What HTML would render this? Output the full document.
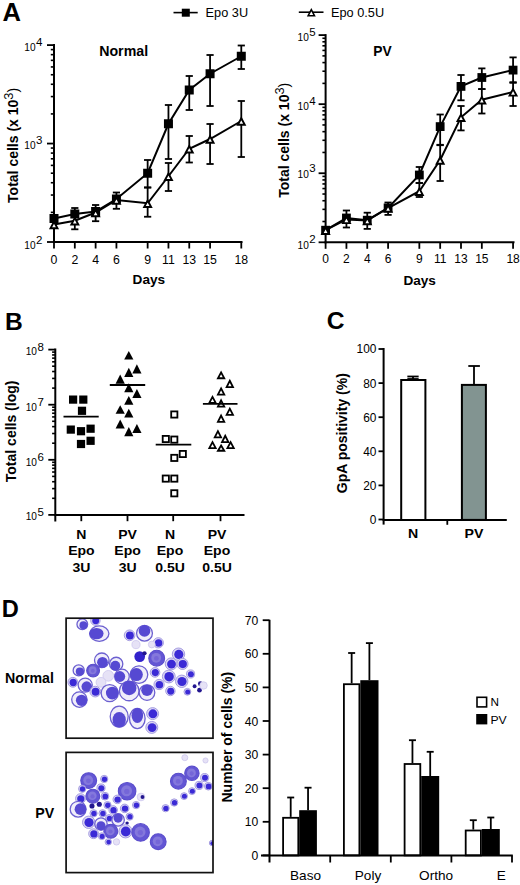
<!DOCTYPE html>
<html><head><meta charset="utf-8"><style>
html,body{margin:0;padding:0;background:#fff;}
svg{display:block;}
text{font-family:"Liberation Sans", sans-serif;fill:#000;}
</style></head><body>
<svg width="520" height="885" viewBox="0 0 520 885">
<rect width="520" height="885" fill="#fff"/>
<text transform="translate(2.40,20.60)" font-size="25.6" font-weight="bold" text-anchor="start">A</text>
<line x1="173.50" y1="12.60" x2="197.70" y2="12.60" stroke="#000" stroke-width="1.6"/>
<rect x="181.80" y="8.70" width="8.00" height="8.00" fill="#000"/>
<text transform="translate(205.60,17.00) scale(1.045,1)" font-size="12.2" font-weight="normal" text-anchor="start">Epo 3U</text>
<line x1="298.80" y1="12.20" x2="323.50" y2="12.20" stroke="#000" stroke-width="1.6"/>
<polygon points="311.30,9.70 314.44,15.70 308.16,15.70" fill="#fff" stroke="#000" stroke-width="1.6" stroke-linejoin="miter"/>
<text transform="translate(331.00,17.00) scale(1.045,1)" font-size="12.2" font-weight="normal" text-anchor="start">Epo 0.5U</text>
<line x1="54.00" y1="44.10" x2="54.00" y2="243.00" stroke="#000" stroke-width="2"/>
<line x1="47.00" y1="45.10" x2="54.00" y2="45.10" stroke="#000" stroke-width="1.8"/>
<line x1="47.00" y1="143.55" x2="54.00" y2="143.55" stroke="#000" stroke-width="1.8"/>
<line x1="47.00" y1="242.00" x2="54.00" y2="242.00" stroke="#000" stroke-width="1.8"/>
<line x1="50.80" y1="113.91" x2="54.00" y2="113.91" stroke="#000" stroke-width="1.6"/>
<line x1="50.80" y1="96.58" x2="54.00" y2="96.58" stroke="#000" stroke-width="1.6"/>
<line x1="50.80" y1="84.28" x2="54.00" y2="84.28" stroke="#000" stroke-width="1.6"/>
<line x1="50.80" y1="74.74" x2="54.00" y2="74.74" stroke="#000" stroke-width="1.6"/>
<line x1="50.80" y1="66.94" x2="54.00" y2="66.94" stroke="#000" stroke-width="1.6"/>
<line x1="50.80" y1="60.35" x2="54.00" y2="60.35" stroke="#000" stroke-width="1.6"/>
<line x1="50.80" y1="54.64" x2="54.00" y2="54.64" stroke="#000" stroke-width="1.6"/>
<line x1="50.80" y1="49.60" x2="54.00" y2="49.60" stroke="#000" stroke-width="1.6"/>
<line x1="50.80" y1="212.36" x2="54.00" y2="212.36" stroke="#000" stroke-width="1.6"/>
<line x1="50.80" y1="195.03" x2="54.00" y2="195.03" stroke="#000" stroke-width="1.6"/>
<line x1="50.80" y1="182.73" x2="54.00" y2="182.73" stroke="#000" stroke-width="1.6"/>
<line x1="50.80" y1="173.19" x2="54.00" y2="173.19" stroke="#000" stroke-width="1.6"/>
<line x1="50.80" y1="165.39" x2="54.00" y2="165.39" stroke="#000" stroke-width="1.6"/>
<line x1="50.80" y1="158.80" x2="54.00" y2="158.80" stroke="#000" stroke-width="1.6"/>
<line x1="50.80" y1="153.09" x2="54.00" y2="153.09" stroke="#000" stroke-width="1.6"/>
<line x1="50.80" y1="148.05" x2="54.00" y2="148.05" stroke="#000" stroke-width="1.6"/>
<line x1="53.00" y1="242.00" x2="242.50" y2="242.00" stroke="#000" stroke-width="2"/>
<line x1="54.00" y1="242.00" x2="54.00" y2="248.50" stroke="#000" stroke-width="1.8"/>
<line x1="74.81" y1="242.00" x2="74.81" y2="248.50" stroke="#000" stroke-width="1.8"/>
<line x1="95.62" y1="242.00" x2="95.62" y2="248.50" stroke="#000" stroke-width="1.8"/>
<line x1="116.43" y1="242.00" x2="116.43" y2="248.50" stroke="#000" stroke-width="1.8"/>
<line x1="147.64" y1="242.00" x2="147.64" y2="248.50" stroke="#000" stroke-width="1.8"/>
<line x1="168.45" y1="242.00" x2="168.45" y2="248.50" stroke="#000" stroke-width="1.8"/>
<line x1="189.26" y1="242.00" x2="189.26" y2="248.50" stroke="#000" stroke-width="1.8"/>
<line x1="210.07" y1="242.00" x2="210.07" y2="248.50" stroke="#000" stroke-width="1.8"/>
<line x1="241.29" y1="242.00" x2="241.29" y2="248.50" stroke="#000" stroke-width="1.8"/>
<line x1="74.81" y1="208.00" x2="74.81" y2="214.00" stroke="#000" stroke-width="1.8"/>
<line x1="71.21" y1="208.00" x2="78.41" y2="208.00" stroke="#000" stroke-width="1.8"/>
<line x1="95.62" y1="205.00" x2="95.62" y2="211.50" stroke="#000" stroke-width="1.8"/>
<line x1="92.02" y1="205.00" x2="99.22" y2="205.00" stroke="#000" stroke-width="1.8"/>
<line x1="116.43" y1="192.50" x2="116.43" y2="199.00" stroke="#000" stroke-width="1.8"/>
<line x1="112.83" y1="192.50" x2="120.03" y2="192.50" stroke="#000" stroke-width="1.8"/>
<line x1="147.64" y1="160.00" x2="147.64" y2="187.50" stroke="#000" stroke-width="1.8"/>
<line x1="144.04" y1="160.00" x2="151.24" y2="160.00" stroke="#000" stroke-width="1.8"/>
<line x1="144.04" y1="187.50" x2="151.24" y2="187.50" stroke="#000" stroke-width="1.8"/>
<line x1="168.45" y1="105.00" x2="168.45" y2="159.00" stroke="#000" stroke-width="1.8"/>
<line x1="164.85" y1="105.00" x2="172.05" y2="105.00" stroke="#000" stroke-width="1.8"/>
<line x1="164.85" y1="159.00" x2="172.05" y2="159.00" stroke="#000" stroke-width="1.8"/>
<line x1="189.26" y1="76.00" x2="189.26" y2="110.00" stroke="#000" stroke-width="1.8"/>
<line x1="185.66" y1="76.00" x2="192.86" y2="76.00" stroke="#000" stroke-width="1.8"/>
<line x1="185.66" y1="110.00" x2="192.86" y2="110.00" stroke="#000" stroke-width="1.8"/>
<line x1="210.07" y1="55.00" x2="210.07" y2="106.00" stroke="#000" stroke-width="1.8"/>
<line x1="206.47" y1="55.00" x2="213.67" y2="55.00" stroke="#000" stroke-width="1.8"/>
<line x1="206.47" y1="106.00" x2="213.67" y2="106.00" stroke="#000" stroke-width="1.8"/>
<line x1="241.29" y1="45.50" x2="241.29" y2="69.00" stroke="#000" stroke-width="1.8"/>
<line x1="237.69" y1="45.50" x2="244.89" y2="45.50" stroke="#000" stroke-width="1.8"/>
<line x1="237.69" y1="69.00" x2="244.89" y2="69.00" stroke="#000" stroke-width="1.8"/>
<line x1="74.81" y1="220.70" x2="74.81" y2="229.30" stroke="#000" stroke-width="1.8"/>
<line x1="71.21" y1="229.30" x2="78.41" y2="229.30" stroke="#000" stroke-width="1.8"/>
<line x1="95.62" y1="212.50" x2="95.62" y2="221.20" stroke="#000" stroke-width="1.8"/>
<line x1="92.02" y1="221.20" x2="99.22" y2="221.20" stroke="#000" stroke-width="1.8"/>
<line x1="116.43" y1="200.00" x2="116.43" y2="208.80" stroke="#000" stroke-width="1.8"/>
<line x1="112.83" y1="208.80" x2="120.03" y2="208.80" stroke="#000" stroke-width="1.8"/>
<line x1="147.64" y1="187.50" x2="147.64" y2="216.75" stroke="#000" stroke-width="1.8"/>
<line x1="144.04" y1="187.50" x2="151.24" y2="187.50" stroke="#000" stroke-width="1.8"/>
<line x1="144.04" y1="216.75" x2="151.24" y2="216.75" stroke="#000" stroke-width="1.8"/>
<line x1="168.45" y1="163.00" x2="168.45" y2="191.00" stroke="#000" stroke-width="1.8"/>
<line x1="164.85" y1="163.00" x2="172.05" y2="163.00" stroke="#000" stroke-width="1.8"/>
<line x1="164.85" y1="191.00" x2="172.05" y2="191.00" stroke="#000" stroke-width="1.8"/>
<line x1="189.26" y1="136.00" x2="189.26" y2="162.50" stroke="#000" stroke-width="1.8"/>
<line x1="185.66" y1="136.00" x2="192.86" y2="136.00" stroke="#000" stroke-width="1.8"/>
<line x1="185.66" y1="162.50" x2="192.86" y2="162.50" stroke="#000" stroke-width="1.8"/>
<line x1="210.07" y1="124.00" x2="210.07" y2="164.00" stroke="#000" stroke-width="1.8"/>
<line x1="206.47" y1="124.00" x2="213.67" y2="124.00" stroke="#000" stroke-width="1.8"/>
<line x1="206.47" y1="164.00" x2="213.67" y2="164.00" stroke="#000" stroke-width="1.8"/>
<line x1="241.29" y1="101.00" x2="241.29" y2="157.00" stroke="#000" stroke-width="1.8"/>
<line x1="237.69" y1="101.00" x2="244.89" y2="101.00" stroke="#000" stroke-width="1.8"/>
<line x1="237.69" y1="157.00" x2="244.89" y2="157.00" stroke="#000" stroke-width="1.8"/>
<polyline fill="none" stroke="#000" stroke-width="2" points="54.00,218.50 74.81,214.00 95.62,211.50 116.43,199.00 147.64,173.25 168.45,123.75 189.26,90.00 210.07,73.75 241.29,56.25"/>
<polyline fill="none" stroke="#000" stroke-width="2" points="54.00,224.50 74.81,220.70 95.62,212.50 116.43,200.00 147.64,203.25 168.45,176.25 189.26,148.75 210.07,139.00 241.29,121.00"/>
<rect x="49.50" y="214.00" width="9.00" height="9.00" fill="#000"/>
<rect x="70.31" y="209.50" width="9.00" height="9.00" fill="#000"/>
<rect x="91.12" y="207.00" width="9.00" height="9.00" fill="#000"/>
<rect x="111.93" y="194.50" width="9.00" height="9.00" fill="#000"/>
<rect x="143.14" y="168.75" width="9.00" height="9.00" fill="#000"/>
<rect x="163.95" y="119.25" width="9.00" height="9.00" fill="#000"/>
<rect x="184.76" y="85.50" width="9.00" height="9.00" fill="#000"/>
<rect x="205.57" y="69.25" width="9.00" height="9.00" fill="#000"/>
<rect x="236.79" y="51.75" width="9.00" height="9.00" fill="#000"/>
<polygon points="54.00,221.70 57.48,228.25 50.52,228.25" fill="#fff" stroke="#000" stroke-width="1.9" stroke-linejoin="miter"/>
<polygon points="74.81,217.90 78.30,224.45 71.33,224.45" fill="#fff" stroke="#000" stroke-width="1.9" stroke-linejoin="miter"/>
<polygon points="95.62,209.70 99.11,216.25 92.14,216.25" fill="#fff" stroke="#000" stroke-width="1.9" stroke-linejoin="miter"/>
<polygon points="116.43,197.20 119.91,203.75 112.94,203.75" fill="#fff" stroke="#000" stroke-width="1.9" stroke-linejoin="miter"/>
<polygon points="147.64,200.45 151.13,207.00 144.16,207.00" fill="#fff" stroke="#000" stroke-width="1.9" stroke-linejoin="miter"/>
<polygon points="168.45,173.45 171.94,180.00 164.97,180.00" fill="#fff" stroke="#000" stroke-width="1.9" stroke-linejoin="miter"/>
<polygon points="189.26,145.95 192.75,152.50 185.78,152.50" fill="#fff" stroke="#000" stroke-width="1.9" stroke-linejoin="miter"/>
<polygon points="210.07,136.20 213.56,142.75 206.59,142.75" fill="#fff" stroke="#000" stroke-width="1.9" stroke-linejoin="miter"/>
<polygon points="241.29,118.20 244.77,124.75 237.81,124.75" fill="#fff" stroke="#000" stroke-width="1.9" stroke-linejoin="miter"/>
<text transform="translate(54.00,263.60)" font-size="12.3" font-weight="normal" text-anchor="middle">0</text>
<text transform="translate(74.81,263.60)" font-size="12.3" font-weight="normal" text-anchor="middle">2</text>
<text transform="translate(95.62,263.60)" font-size="12.3" font-weight="normal" text-anchor="middle">4</text>
<text transform="translate(116.43,263.60)" font-size="12.3" font-weight="normal" text-anchor="middle">6</text>
<text transform="translate(147.64,263.60)" font-size="12.3" font-weight="normal" text-anchor="middle">9</text>
<text transform="translate(168.45,263.60)" font-size="12.3" font-weight="normal" text-anchor="middle">11</text>
<text transform="translate(189.26,263.60)" font-size="12.3" font-weight="normal" text-anchor="middle">13</text>
<text transform="translate(210.07,263.60)" font-size="12.3" font-weight="normal" text-anchor="middle">15</text>
<text transform="translate(241.29,263.60)" font-size="12.3" font-weight="normal" text-anchor="middle">18</text>
<text transform="translate(35.60,50.80) scale(0.88,1)" font-size="11.5" text-anchor="end">10</text>
<text x="36.00" y="46.00" font-size="11.5">4</text>
<text transform="translate(35.60,148.80) scale(0.88,1)" font-size="11.5" text-anchor="end">10</text>
<text x="36.00" y="144.00" font-size="11.5">3</text>
<text transform="translate(35.60,248.60) scale(0.88,1)" font-size="11.5" text-anchor="end">10</text>
<text x="36.00" y="243.80" font-size="11.5">2</text>
<text transform="translate(99.20,55.80)" font-size="14.2" font-weight="bold" text-anchor="start">Normal</text>
<text transform="translate(132.60,284.20)" font-size="13.6" font-weight="bold" text-anchor="start">Days</text>
<text transform="translate(18.20,202.90) rotate(-90)" font-size="14" font-weight="bold" text-anchor="start">Total cells (x 10<tspan font-size="12.8" font-weight="normal" dy="-5.5">3</tspan><tspan font-weight="normal" dy="5.5">)</tspan></text>
<line x1="325.60" y1="34.10" x2="325.60" y2="243.30" stroke="#000" stroke-width="2"/>
<line x1="318.60" y1="35.10" x2="325.60" y2="35.10" stroke="#000" stroke-width="1.8"/>
<line x1="318.60" y1="104.17" x2="325.60" y2="104.17" stroke="#000" stroke-width="1.8"/>
<line x1="318.60" y1="173.24" x2="325.60" y2="173.24" stroke="#000" stroke-width="1.8"/>
<line x1="318.60" y1="242.31" x2="325.60" y2="242.31" stroke="#000" stroke-width="1.8"/>
<line x1="322.40" y1="83.38" x2="325.60" y2="83.38" stroke="#000" stroke-width="1.6"/>
<line x1="322.40" y1="71.22" x2="325.60" y2="71.22" stroke="#000" stroke-width="1.6"/>
<line x1="322.40" y1="62.59" x2="325.60" y2="62.59" stroke="#000" stroke-width="1.6"/>
<line x1="322.40" y1="55.89" x2="325.60" y2="55.89" stroke="#000" stroke-width="1.6"/>
<line x1="322.40" y1="50.42" x2="325.60" y2="50.42" stroke="#000" stroke-width="1.6"/>
<line x1="322.40" y1="45.80" x2="325.60" y2="45.80" stroke="#000" stroke-width="1.6"/>
<line x1="322.40" y1="41.79" x2="325.60" y2="41.79" stroke="#000" stroke-width="1.6"/>
<line x1="322.40" y1="38.26" x2="325.60" y2="38.26" stroke="#000" stroke-width="1.6"/>
<line x1="322.40" y1="152.45" x2="325.60" y2="152.45" stroke="#000" stroke-width="1.6"/>
<line x1="322.40" y1="140.29" x2="325.60" y2="140.29" stroke="#000" stroke-width="1.6"/>
<line x1="322.40" y1="131.66" x2="325.60" y2="131.66" stroke="#000" stroke-width="1.6"/>
<line x1="322.40" y1="124.96" x2="325.60" y2="124.96" stroke="#000" stroke-width="1.6"/>
<line x1="322.40" y1="119.49" x2="325.60" y2="119.49" stroke="#000" stroke-width="1.6"/>
<line x1="322.40" y1="114.87" x2="325.60" y2="114.87" stroke="#000" stroke-width="1.6"/>
<line x1="322.40" y1="110.86" x2="325.60" y2="110.86" stroke="#000" stroke-width="1.6"/>
<line x1="322.40" y1="107.33" x2="325.60" y2="107.33" stroke="#000" stroke-width="1.6"/>
<line x1="322.40" y1="221.52" x2="325.60" y2="221.52" stroke="#000" stroke-width="1.6"/>
<line x1="322.40" y1="209.36" x2="325.60" y2="209.36" stroke="#000" stroke-width="1.6"/>
<line x1="322.40" y1="200.73" x2="325.60" y2="200.73" stroke="#000" stroke-width="1.6"/>
<line x1="322.40" y1="194.03" x2="325.60" y2="194.03" stroke="#000" stroke-width="1.6"/>
<line x1="322.40" y1="188.56" x2="325.60" y2="188.56" stroke="#000" stroke-width="1.6"/>
<line x1="322.40" y1="183.94" x2="325.60" y2="183.94" stroke="#000" stroke-width="1.6"/>
<line x1="322.40" y1="179.93" x2="325.60" y2="179.93" stroke="#000" stroke-width="1.6"/>
<line x1="322.40" y1="176.40" x2="325.60" y2="176.40" stroke="#000" stroke-width="1.6"/>
<line x1="324.60" y1="242.30" x2="514.50" y2="242.30" stroke="#000" stroke-width="2"/>
<line x1="325.60" y1="242.30" x2="325.60" y2="248.80" stroke="#000" stroke-width="1.8"/>
<line x1="346.43" y1="242.30" x2="346.43" y2="248.80" stroke="#000" stroke-width="1.8"/>
<line x1="367.26" y1="242.30" x2="367.26" y2="248.80" stroke="#000" stroke-width="1.8"/>
<line x1="388.09" y1="242.30" x2="388.09" y2="248.80" stroke="#000" stroke-width="1.8"/>
<line x1="419.34" y1="242.30" x2="419.34" y2="248.80" stroke="#000" stroke-width="1.8"/>
<line x1="440.17" y1="242.30" x2="440.17" y2="248.80" stroke="#000" stroke-width="1.8"/>
<line x1="461.00" y1="242.30" x2="461.00" y2="248.80" stroke="#000" stroke-width="1.8"/>
<line x1="481.83" y1="242.30" x2="481.83" y2="248.80" stroke="#000" stroke-width="1.8"/>
<line x1="513.07" y1="242.30" x2="513.07" y2="248.80" stroke="#000" stroke-width="1.8"/>
<line x1="346.43" y1="210.50" x2="346.43" y2="218.00" stroke="#000" stroke-width="1.8"/>
<line x1="342.83" y1="210.50" x2="350.03" y2="210.50" stroke="#000" stroke-width="1.8"/>
<line x1="367.26" y1="212.70" x2="367.26" y2="220.20" stroke="#000" stroke-width="1.8"/>
<line x1="363.66" y1="212.70" x2="370.86" y2="212.70" stroke="#000" stroke-width="1.8"/>
<line x1="388.09" y1="202.50" x2="388.09" y2="207.90" stroke="#000" stroke-width="1.8"/>
<line x1="384.49" y1="202.50" x2="391.69" y2="202.50" stroke="#000" stroke-width="1.8"/>
<line x1="419.34" y1="167.00" x2="419.34" y2="183.00" stroke="#000" stroke-width="1.8"/>
<line x1="415.74" y1="167.00" x2="422.94" y2="167.00" stroke="#000" stroke-width="1.8"/>
<line x1="415.74" y1="183.00" x2="422.94" y2="183.00" stroke="#000" stroke-width="1.8"/>
<line x1="440.17" y1="114.50" x2="440.17" y2="145.20" stroke="#000" stroke-width="1.8"/>
<line x1="436.56" y1="114.50" x2="443.77" y2="114.50" stroke="#000" stroke-width="1.8"/>
<line x1="436.56" y1="145.20" x2="443.77" y2="145.20" stroke="#000" stroke-width="1.8"/>
<line x1="461.00" y1="75.00" x2="461.00" y2="100.30" stroke="#000" stroke-width="1.8"/>
<line x1="457.39" y1="75.00" x2="464.60" y2="75.00" stroke="#000" stroke-width="1.8"/>
<line x1="457.39" y1="100.30" x2="464.60" y2="100.30" stroke="#000" stroke-width="1.8"/>
<line x1="481.83" y1="68.40" x2="481.83" y2="89.10" stroke="#000" stroke-width="1.8"/>
<line x1="478.23" y1="68.40" x2="485.43" y2="68.40" stroke="#000" stroke-width="1.8"/>
<line x1="478.23" y1="89.10" x2="485.43" y2="89.10" stroke="#000" stroke-width="1.8"/>
<line x1="513.07" y1="57.40" x2="513.07" y2="82.80" stroke="#000" stroke-width="1.8"/>
<line x1="509.47" y1="57.40" x2="516.67" y2="57.40" stroke="#000" stroke-width="1.8"/>
<line x1="509.47" y1="82.80" x2="516.67" y2="82.80" stroke="#000" stroke-width="1.8"/>
<line x1="346.43" y1="219.40" x2="346.43" y2="227.50" stroke="#000" stroke-width="1.8"/>
<line x1="342.83" y1="227.50" x2="350.03" y2="227.50" stroke="#000" stroke-width="1.8"/>
<line x1="367.26" y1="220.50" x2="367.26" y2="228.90" stroke="#000" stroke-width="1.8"/>
<line x1="363.66" y1="228.90" x2="370.86" y2="228.90" stroke="#000" stroke-width="1.8"/>
<line x1="388.09" y1="208.00" x2="388.09" y2="214.90" stroke="#000" stroke-width="1.8"/>
<line x1="384.49" y1="214.90" x2="391.69" y2="214.90" stroke="#000" stroke-width="1.8"/>
<line x1="419.34" y1="183.00" x2="419.34" y2="197.00" stroke="#000" stroke-width="1.8"/>
<line x1="415.74" y1="183.00" x2="422.94" y2="183.00" stroke="#000" stroke-width="1.8"/>
<line x1="415.74" y1="197.00" x2="422.94" y2="197.00" stroke="#000" stroke-width="1.8"/>
<line x1="440.17" y1="144.80" x2="440.17" y2="181.00" stroke="#000" stroke-width="1.8"/>
<line x1="436.56" y1="144.80" x2="443.77" y2="144.80" stroke="#000" stroke-width="1.8"/>
<line x1="436.56" y1="181.00" x2="443.77" y2="181.00" stroke="#000" stroke-width="1.8"/>
<line x1="461.00" y1="106.00" x2="461.00" y2="130.40" stroke="#000" stroke-width="1.8"/>
<line x1="457.39" y1="106.00" x2="464.60" y2="106.00" stroke="#000" stroke-width="1.8"/>
<line x1="457.39" y1="130.40" x2="464.60" y2="130.40" stroke="#000" stroke-width="1.8"/>
<line x1="481.83" y1="89.10" x2="481.83" y2="113.50" stroke="#000" stroke-width="1.8"/>
<line x1="478.23" y1="89.10" x2="485.43" y2="89.10" stroke="#000" stroke-width="1.8"/>
<line x1="478.23" y1="113.50" x2="485.43" y2="113.50" stroke="#000" stroke-width="1.8"/>
<line x1="513.07" y1="82.20" x2="513.07" y2="106.00" stroke="#000" stroke-width="1.8"/>
<line x1="509.47" y1="82.20" x2="516.67" y2="82.20" stroke="#000" stroke-width="1.8"/>
<line x1="509.47" y1="106.00" x2="516.67" y2="106.00" stroke="#000" stroke-width="1.8"/>
<polyline fill="none" stroke="#000" stroke-width="2" points="325.60,230.20 346.43,218.00 367.26,220.20 388.09,207.90 419.34,175.00 440.17,126.60 461.00,86.40 481.83,77.50 513.07,70.10"/>
<polyline fill="none" stroke="#000" stroke-width="2" points="325.60,230.20 346.43,219.40 367.26,220.50 388.09,208.00 419.34,191.20 440.17,160.00 461.00,117.30 481.83,99.70 513.07,91.90"/>
<rect x="321.20" y="225.80" width="8.80" height="8.80" fill="#000"/>
<rect x="342.03" y="213.60" width="8.80" height="8.80" fill="#000"/>
<rect x="362.86" y="215.80" width="8.80" height="8.80" fill="#000"/>
<rect x="383.69" y="203.50" width="8.80" height="8.80" fill="#000"/>
<rect x="414.94" y="170.60" width="8.80" height="8.80" fill="#000"/>
<rect x="435.77" y="122.20" width="8.80" height="8.80" fill="#000"/>
<rect x="456.60" y="82.00" width="8.80" height="8.80" fill="#000"/>
<rect x="477.43" y="73.10" width="8.80" height="8.80" fill="#000"/>
<rect x="508.67" y="65.70" width="8.80" height="8.80" fill="#000"/>
<polygon points="325.60,227.40 329.09,233.95 322.12,233.95" fill="#fff" stroke="#000" stroke-width="1.9" stroke-linejoin="miter"/>
<polygon points="346.43,216.60 349.92,223.15 342.94,223.15" fill="#fff" stroke="#000" stroke-width="1.9" stroke-linejoin="miter"/>
<polygon points="367.26,217.70 370.75,224.25 363.77,224.25" fill="#fff" stroke="#000" stroke-width="1.9" stroke-linejoin="miter"/>
<polygon points="388.09,205.20 391.58,211.75 384.61,211.75" fill="#fff" stroke="#000" stroke-width="1.9" stroke-linejoin="miter"/>
<polygon points="419.34,188.40 422.82,194.95 415.85,194.95" fill="#fff" stroke="#000" stroke-width="1.9" stroke-linejoin="miter"/>
<polygon points="440.17,157.20 443.65,163.75 436.68,163.75" fill="#fff" stroke="#000" stroke-width="1.9" stroke-linejoin="miter"/>
<polygon points="461.00,114.50 464.48,121.05 457.51,121.05" fill="#fff" stroke="#000" stroke-width="1.9" stroke-linejoin="miter"/>
<polygon points="481.83,96.90 485.31,103.45 478.34,103.45" fill="#fff" stroke="#000" stroke-width="1.9" stroke-linejoin="miter"/>
<polygon points="513.07,89.10 516.55,95.65 509.58,95.65" fill="#fff" stroke="#000" stroke-width="1.9" stroke-linejoin="miter"/>
<text transform="translate(325.60,263.00)" font-size="12.0" font-weight="normal" text-anchor="middle">0</text>
<text transform="translate(346.43,263.00)" font-size="12.0" font-weight="normal" text-anchor="middle">2</text>
<text transform="translate(367.26,263.00)" font-size="12.0" font-weight="normal" text-anchor="middle">4</text>
<text transform="translate(388.09,263.00)" font-size="12.0" font-weight="normal" text-anchor="middle">6</text>
<text transform="translate(419.34,263.00)" font-size="12.0" font-weight="normal" text-anchor="middle">9</text>
<text transform="translate(440.17,263.00)" font-size="12.0" font-weight="normal" text-anchor="middle">11</text>
<text transform="translate(461.00,263.00)" font-size="12.0" font-weight="normal" text-anchor="middle">13</text>
<text transform="translate(481.83,263.00)" font-size="12.0" font-weight="normal" text-anchor="middle">15</text>
<text transform="translate(513.07,263.00)" font-size="12.0" font-weight="normal" text-anchor="middle">18</text>
<text transform="translate(308.80,40.80) scale(0.88,1)" font-size="11.5" text-anchor="end">10</text>
<text x="309.20" y="35.60" font-size="11.5">5</text>
<text transform="translate(308.80,110.20) scale(0.88,1)" font-size="11.5" text-anchor="end">10</text>
<text x="309.20" y="105.00" font-size="11.5">4</text>
<text transform="translate(308.80,177.60) scale(0.88,1)" font-size="11.5" text-anchor="end">10</text>
<text x="309.20" y="172.40" font-size="11.5">3</text>
<text transform="translate(308.80,248.60) scale(0.88,1)" font-size="11.5" text-anchor="end">10</text>
<text x="309.20" y="243.40" font-size="11.5">2</text>
<text transform="translate(373.20,55.80)" font-size="13.8" font-weight="bold" text-anchor="start">PV</text>
<text transform="translate(403.40,285.20)" font-size="13.6" font-weight="bold" text-anchor="start">Days</text>
<text transform="translate(289.00,197.80) rotate(-90)" font-size="14" font-weight="bold" text-anchor="start">Total cells (x 10<tspan font-size="12.8" font-weight="normal" dy="-5.5">3</tspan><tspan font-weight="normal" dy="5.5">)</tspan></text>
<text transform="translate(5.00,329.80)" font-size="24.6" font-weight="bold" text-anchor="start">B</text>
<line x1="55.30" y1="348.50" x2="55.30" y2="521.50" stroke="#000" stroke-width="2"/>
<line x1="48.30" y1="349.60" x2="55.30" y2="349.60" stroke="#000" stroke-width="1.8"/>
<line x1="48.30" y1="404.70" x2="55.30" y2="404.70" stroke="#000" stroke-width="1.8"/>
<line x1="48.30" y1="459.80" x2="55.30" y2="459.80" stroke="#000" stroke-width="1.8"/>
<line x1="48.30" y1="514.90" x2="55.30" y2="514.90" stroke="#000" stroke-width="1.8"/>
<line x1="52.10" y1="388.11" x2="55.30" y2="388.11" stroke="#000" stroke-width="1.6"/>
<line x1="52.10" y1="378.41" x2="55.30" y2="378.41" stroke="#000" stroke-width="1.6"/>
<line x1="52.10" y1="371.53" x2="55.30" y2="371.53" stroke="#000" stroke-width="1.6"/>
<line x1="52.10" y1="366.19" x2="55.30" y2="366.19" stroke="#000" stroke-width="1.6"/>
<line x1="52.10" y1="361.82" x2="55.30" y2="361.82" stroke="#000" stroke-width="1.6"/>
<line x1="52.10" y1="358.14" x2="55.30" y2="358.14" stroke="#000" stroke-width="1.6"/>
<line x1="52.10" y1="354.94" x2="55.30" y2="354.94" stroke="#000" stroke-width="1.6"/>
<line x1="52.10" y1="352.12" x2="55.30" y2="352.12" stroke="#000" stroke-width="1.6"/>
<line x1="52.10" y1="443.21" x2="55.30" y2="443.21" stroke="#000" stroke-width="1.6"/>
<line x1="52.10" y1="433.51" x2="55.30" y2="433.51" stroke="#000" stroke-width="1.6"/>
<line x1="52.10" y1="426.63" x2="55.30" y2="426.63" stroke="#000" stroke-width="1.6"/>
<line x1="52.10" y1="421.29" x2="55.30" y2="421.29" stroke="#000" stroke-width="1.6"/>
<line x1="52.10" y1="416.92" x2="55.30" y2="416.92" stroke="#000" stroke-width="1.6"/>
<line x1="52.10" y1="413.24" x2="55.30" y2="413.24" stroke="#000" stroke-width="1.6"/>
<line x1="52.10" y1="410.04" x2="55.30" y2="410.04" stroke="#000" stroke-width="1.6"/>
<line x1="52.10" y1="407.22" x2="55.30" y2="407.22" stroke="#000" stroke-width="1.6"/>
<line x1="52.10" y1="498.31" x2="55.30" y2="498.31" stroke="#000" stroke-width="1.6"/>
<line x1="52.10" y1="488.61" x2="55.30" y2="488.61" stroke="#000" stroke-width="1.6"/>
<line x1="52.10" y1="481.73" x2="55.30" y2="481.73" stroke="#000" stroke-width="1.6"/>
<line x1="52.10" y1="476.39" x2="55.30" y2="476.39" stroke="#000" stroke-width="1.6"/>
<line x1="52.10" y1="472.02" x2="55.30" y2="472.02" stroke="#000" stroke-width="1.6"/>
<line x1="52.10" y1="468.34" x2="55.30" y2="468.34" stroke="#000" stroke-width="1.6"/>
<line x1="52.10" y1="465.14" x2="55.30" y2="465.14" stroke="#000" stroke-width="1.6"/>
<line x1="52.10" y1="462.32" x2="55.30" y2="462.32" stroke="#000" stroke-width="1.6"/>
<line x1="54.30" y1="515.00" x2="244.50" y2="515.00" stroke="#000" stroke-width="2"/>
<line x1="81.30" y1="515.00" x2="81.30" y2="521.20" stroke="#000" stroke-width="1.8"/>
<line x1="127.50" y1="515.00" x2="127.50" y2="521.20" stroke="#000" stroke-width="1.8"/>
<line x1="173.20" y1="515.00" x2="173.20" y2="521.20" stroke="#000" stroke-width="1.8"/>
<line x1="220.50" y1="515.00" x2="220.50" y2="521.20" stroke="#000" stroke-width="1.8"/>
<text transform="translate(37.00,355.40) scale(0.88,1)" font-size="11.5" text-anchor="end">10</text>
<text x="37.40" y="350.80" font-size="11.5">8</text>
<text transform="translate(37.00,410.50) scale(0.88,1)" font-size="11.5" text-anchor="end">10</text>
<text x="37.40" y="405.90" font-size="11.5">7</text>
<text transform="translate(37.00,465.70) scale(0.88,1)" font-size="11.5" text-anchor="end">10</text>
<text x="37.40" y="461.10" font-size="11.5">6</text>
<text transform="translate(37.00,520.20) scale(0.88,1)" font-size="11.5" text-anchor="end">10</text>
<text x="37.40" y="515.60" font-size="11.5">5</text>
<text transform="translate(16.00,482.20) rotate(-90)" font-size="14" font-weight="bold" text-anchor="start">Total cells (log)</text>
<text transform="translate(81.40,538.90) scale(1.040,1)" font-size="13.5" font-weight="bold" text-anchor="middle">N</text>
<text transform="translate(81.40,555.20) scale(1.040,1)" font-size="13.5" font-weight="bold" text-anchor="middle">Epo</text>
<text transform="translate(81.40,571.50) scale(1.040,1)" font-size="13.5" font-weight="bold" text-anchor="middle">3U</text>
<text transform="translate(127.60,538.90) scale(1.040,1)" font-size="13.5" font-weight="bold" text-anchor="middle">PV</text>
<text transform="translate(127.60,555.20) scale(1.040,1)" font-size="13.5" font-weight="bold" text-anchor="middle">Epo</text>
<text transform="translate(127.60,571.50) scale(1.040,1)" font-size="13.5" font-weight="bold" text-anchor="middle">3U</text>
<text transform="translate(170.00,538.90) scale(1.040,1)" font-size="13.5" font-weight="bold" text-anchor="middle">N</text>
<text transform="translate(170.00,555.20) scale(1.040,1)" font-size="13.5" font-weight="bold" text-anchor="middle">Epo</text>
<text transform="translate(170.00,571.50) scale(1.040,1)" font-size="13.5" font-weight="bold" text-anchor="middle">0.5U</text>
<text transform="translate(217.00,538.90) scale(1.040,1)" font-size="13.5" font-weight="bold" text-anchor="middle">PV</text>
<text transform="translate(217.00,555.20) scale(1.040,1)" font-size="13.5" font-weight="bold" text-anchor="middle">Epo</text>
<text transform="translate(217.00,571.50) scale(1.040,1)" font-size="13.5" font-weight="bold" text-anchor="middle">0.5U</text>
<rect x="69.00" y="395.50" width="8.20" height="8.20" fill="#000"/>
<rect x="79.20" y="395.50" width="8.20" height="8.20" fill="#000"/>
<rect x="77.90" y="406.70" width="8.20" height="8.20" fill="#000"/>
<rect x="66.70" y="425.50" width="8.20" height="8.20" fill="#000"/>
<rect x="76.90" y="427.10" width="8.20" height="8.20" fill="#000"/>
<rect x="86.50" y="424.60" width="8.20" height="8.20" fill="#000"/>
<rect x="76.90" y="439.90" width="8.20" height="8.20" fill="#000"/>
<rect x="86.50" y="436.70" width="8.20" height="8.20" fill="#000"/>
<line x1="63.50" y1="416.60" x2="98.70" y2="416.60" stroke="#000" stroke-width="1.8"/>
<polygon points="128.80,351.00 133.40,359.60 124.20,359.60" fill="#000"/>
<polygon points="136.90,364.20 141.50,373.50 132.30,373.50" fill="#000"/>
<polygon points="128.80,367.70 133.40,376.90 124.20,376.90" fill="#000"/>
<polygon points="120.20,374.60 124.80,383.80 115.60,383.80" fill="#000"/>
<polygon points="128.80,383.30 133.40,392.20 124.20,392.20" fill="#000"/>
<polygon points="136.90,389.00 141.50,397.90 132.30,397.90" fill="#000"/>
<polygon points="128.80,396.00 133.40,404.80 124.20,404.80" fill="#000"/>
<polygon points="120.20,405.20 124.80,413.80 115.60,413.80" fill="#000"/>
<polygon points="128.80,408.70 133.40,417.50 124.20,417.50" fill="#000"/>
<polygon points="120.20,419.60 124.80,428.60 115.60,428.60" fill="#000"/>
<polygon points="136.90,424.00 141.50,432.90 132.30,432.90" fill="#000"/>
<polygon points="128.80,427.10 133.40,436.30 124.20,436.30" fill="#000"/>
<line x1="109.80" y1="385.00" x2="145.20" y2="385.00" stroke="#000" stroke-width="1.8"/>
<rect x="171.20" y="411.40" width="6.20" height="6.20" fill="#fff" stroke="#000" stroke-width="1.8"/>
<rect x="162.70" y="435.90" width="6.20" height="6.20" fill="#fff" stroke="#000" stroke-width="1.8"/>
<rect x="171.20" y="436.50" width="6.20" height="6.20" fill="#fff" stroke="#000" stroke-width="1.8"/>
<rect x="179.70" y="450.90" width="6.20" height="6.20" fill="#fff" stroke="#000" stroke-width="1.8"/>
<rect x="171.20" y="454.80" width="6.20" height="6.20" fill="#fff" stroke="#000" stroke-width="1.8"/>
<rect x="162.70" y="475.50" width="6.20" height="6.20" fill="#fff" stroke="#000" stroke-width="1.8"/>
<rect x="171.20" y="475.50" width="6.20" height="6.20" fill="#fff" stroke="#000" stroke-width="1.8"/>
<rect x="171.20" y="490.20" width="6.20" height="6.20" fill="#fff" stroke="#000" stroke-width="1.8"/>
<line x1="155.70" y1="444.70" x2="191.30" y2="444.70" stroke="#000" stroke-width="1.8"/>
<polygon points="221.10,372.35 224.27,378.25 217.93,378.25" fill="#fff" stroke="#000" stroke-width="1.8" stroke-linejoin="miter"/>
<polygon points="229.80,380.75 232.97,387.05 226.63,387.05" fill="#fff" stroke="#000" stroke-width="1.8" stroke-linejoin="miter"/>
<polygon points="221.10,388.45 224.27,394.55 217.93,394.55" fill="#fff" stroke="#000" stroke-width="1.8" stroke-linejoin="miter"/>
<polygon points="212.50,396.85 215.67,402.85 209.33,402.85" fill="#fff" stroke="#000" stroke-width="1.8" stroke-linejoin="miter"/>
<polygon points="221.10,400.35 224.27,406.65 217.93,406.65" fill="#fff" stroke="#000" stroke-width="1.8" stroke-linejoin="miter"/>
<polygon points="229.80,408.65 232.97,414.95 226.63,414.95" fill="#fff" stroke="#000" stroke-width="1.8" stroke-linejoin="miter"/>
<polygon points="221.10,415.55 224.27,421.85 217.93,421.85" fill="#fff" stroke="#000" stroke-width="1.8" stroke-linejoin="miter"/>
<polygon points="217.90,431.15 221.07,437.45 214.73,437.45" fill="#fff" stroke="#000" stroke-width="1.8" stroke-linejoin="miter"/>
<polygon points="225.20,435.75 228.37,442.05 222.03,442.05" fill="#fff" stroke="#000" stroke-width="1.8" stroke-linejoin="miter"/>
<polygon points="212.50,442.15 215.67,448.15 209.33,448.15" fill="#fff" stroke="#000" stroke-width="1.8" stroke-linejoin="miter"/>
<polygon points="230.60,442.15 233.77,448.15 227.43,448.15" fill="#fff" stroke="#000" stroke-width="1.8" stroke-linejoin="miter"/>
<polygon points="221.10,445.55 224.27,450.75 217.93,450.75" fill="#fff" stroke="#000" stroke-width="1.8" stroke-linejoin="miter"/>
<line x1="202.90" y1="403.80" x2="237.50" y2="403.80" stroke="#000" stroke-width="1.8"/>
<text transform="translate(326.80,329.00)" font-size="24.6" font-weight="bold" text-anchor="start">C</text>
<rect x="401.2" y="380" width="24.2" height="140" fill="#fff" stroke="#000" stroke-width="2"/>
<rect x="461.9" y="384.9" width="24.0" height="135" fill="#829491" stroke="#000" stroke-width="2"/>
<line x1="413.00" y1="376.50" x2="413.00" y2="379.00" stroke="#000" stroke-width="1.8"/>
<line x1="407.35" y1="376.50" x2="418.65" y2="376.50" stroke="#000" stroke-width="1.8"/>
<line x1="407.35" y1="379.00" x2="418.65" y2="379.00" stroke="#000" stroke-width="1.8"/>
<line x1="474.00" y1="366.00" x2="474.00" y2="384.00" stroke="#000" stroke-width="1.8"/>
<line x1="468.30" y1="366.00" x2="479.90" y2="366.00" stroke="#000" stroke-width="1.8"/>
<line x1="383.60" y1="348.00" x2="383.60" y2="524.60" stroke="#000" stroke-width="2"/>
<line x1="382.60" y1="520.00" x2="506.80" y2="520.00" stroke="#000" stroke-width="2"/>
<line x1="447.30" y1="520.00" x2="447.30" y2="524.80" stroke="#000" stroke-width="1.8"/>
<line x1="378.50" y1="349.00" x2="383.60" y2="349.00" stroke="#000" stroke-width="1.8"/>
<text transform="translate(376.40,353.40) scale(0.960,1)" font-size="12.4" font-weight="normal" text-anchor="end">100</text>
<line x1="378.50" y1="383.10" x2="383.60" y2="383.10" stroke="#000" stroke-width="1.8"/>
<text transform="translate(376.40,387.50) scale(0.960,1)" font-size="12.4" font-weight="normal" text-anchor="end">80</text>
<line x1="378.50" y1="417.20" x2="383.60" y2="417.20" stroke="#000" stroke-width="1.8"/>
<text transform="translate(376.40,421.60) scale(0.960,1)" font-size="12.4" font-weight="normal" text-anchor="end">60</text>
<line x1="378.50" y1="451.30" x2="383.60" y2="451.30" stroke="#000" stroke-width="1.8"/>
<text transform="translate(376.40,455.70) scale(0.960,1)" font-size="12.4" font-weight="normal" text-anchor="end">40</text>
<line x1="378.50" y1="485.40" x2="383.60" y2="485.40" stroke="#000" stroke-width="1.8"/>
<text transform="translate(376.40,489.80) scale(0.960,1)" font-size="12.4" font-weight="normal" text-anchor="end">20</text>
<line x1="378.50" y1="519.50" x2="383.60" y2="519.50" stroke="#000" stroke-width="1.8"/>
<text transform="translate(376.40,523.90) scale(0.960,1)" font-size="12.4" font-weight="normal" text-anchor="end">0</text>
<text transform="translate(347.30,493.20) rotate(-90)" font-size="14" font-weight="bold" text-anchor="start">GpA positivity (%)</text>
<text transform="translate(413.00,538.40) scale(1.040,1)" font-size="13.6" font-weight="bold" text-anchor="middle">N</text>
<text transform="translate(474.00,538.40) scale(1.040,1)" font-size="13.6" font-weight="bold" text-anchor="middle">PV</text>
<text transform="translate(1.80,617.00)" font-size="23.6" font-weight="bold" text-anchor="start">D</text>
<text transform="translate(5.00,683.00)" font-size="14.2" font-weight="bold" text-anchor="start">Normal</text>
<text transform="translate(35.20,817.70)" font-size="14.2" font-weight="bold" text-anchor="start">PV</text>
<defs><filter id="soft" x="-5%" y="-5%" width="110%" height="110%"><feGaussianBlur stdDeviation="0.4"/></filter><clipPath id="clipN"><rect x="66.1" y="618.2" width="146.9" height="120"/></clipPath><clipPath id="clipP"><rect x="66.1" y="752.4" width="146.9" height="120.2"/></clipPath></defs><g clip-path="url(#clipN)"><g filter="url(#soft)"><ellipse cx="82.3" cy="624.2" rx="5.35" ry="5.35" fill="#f0eefa" stroke="#6c60d0" stroke-width="1.3"/><ellipse cx="83.43" cy="625.33" rx="3.96" ry="3.96" fill="#5749d2"/><circle cx="95.4" cy="620.6" r="4.71" fill="#dcd7f3" stroke="#9d94de" stroke-width="0.9"/><circle cx="95.7" cy="620.8000000000001" r="3.48" fill="#3a2cd6"/><ellipse cx="99.3" cy="633.6" rx="9.63" ry="7.70" fill="#f0eefa" stroke="#6c60d0" stroke-width="1.3"/><ellipse cx="96.41" cy="633.60" rx="7.13" ry="5.70" fill="#5749d2"/><circle cx="129.6" cy="635.3" r="5.35" fill="#dcd7f3" stroke="#9d94de" stroke-width="0.9"/><circle cx="129.9" cy="635.5" r="3.96" fill="#3a2cd6"/><ellipse cx="144.5" cy="633.2" rx="7.92" ry="7.92" fill="#f0eefa" stroke="#6c60d0" stroke-width="1.3"/><ellipse cx="144.50" cy="630.82" rx="5.86" ry="5.86" fill="#5749d2"/><circle cx="158.3" cy="642.8" r="5.14" fill="#dcd7f3" stroke="#9d94de" stroke-width="0.9"/><circle cx="158.60000000000002" cy="643.0" r="3.80" fill="#3a2cd6"/><circle cx="136.0" cy="644.6" r="4.07" fill="#e6e2f6" stroke="#cdc6ee" stroke-width="0.8"/><circle cx="151.8" cy="644.5" r="3.42" fill="#e6e2f6" stroke="#cdc6ee" stroke-width="0.8"/><ellipse cx="101.8" cy="660.3" rx="7.28" ry="7.28" fill="#f0eefa" stroke="#6c60d0" stroke-width="1.3"/><ellipse cx="102.49" cy="662.37" rx="5.38" ry="5.38" fill="#5749d2"/><ellipse cx="116.2" cy="663.9" rx="6.63" ry="6.63" fill="#f0eefa" stroke="#6c60d0" stroke-width="1.3"/><ellipse cx="115.31" cy="665.68" rx="4.91" ry="4.91" fill="#5749d2"/><circle cx="139.7" cy="656.6" r="5.35" fill="#3022cc"/><circle cx="144.5" cy="653.3" r="2.14" fill="#24188f"/><circle cx="156.7" cy="658.2" r="7.92" fill="#6457d4" stroke="#5a4dcc" stroke-width="1.1"/><circle cx="156.2" cy="657.8000000000001" r="4.91" fill="#8478dc"/><circle cx="156.39999999999998" cy="658.4000000000001" r="2.38" fill="#7466d8"/><circle cx="178.5" cy="654.2" r="6.21" fill="#dcd7f3" stroke="#9d94de" stroke-width="0.9"/><circle cx="178.8" cy="654.4000000000001" r="4.59" fill="#3a2cd6"/><circle cx="171.2" cy="663.9" r="5.99" fill="#dcd7f3" stroke="#9d94de" stroke-width="0.9"/><circle cx="171.5" cy="664.1" r="4.43" fill="#3a2cd6"/><circle cx="182.5" cy="663.9" r="5.56" fill="#dcd7f3" stroke="#9d94de" stroke-width="0.9"/><circle cx="182.8" cy="664.1" r="4.12" fill="#3a2cd6"/><ellipse cx="78.7" cy="670.4" rx="5.56" ry="5.56" fill="#f0eefa" stroke="#6c60d0" stroke-width="1.3"/><ellipse cx="79.88" cy="671.58" rx="4.12" ry="4.12" fill="#5749d2"/><circle cx="93.1" cy="670.6" r="6.42" fill="#6457d4" stroke="#5a4dcc" stroke-width="1.1"/><circle cx="92.6" cy="670.2" r="3.98" fill="#8478dc"/><circle cx="92.8" cy="670.8000000000001" r="1.93" fill="#7466d8"/><circle cx="108.3" cy="675.8" r="5.35" fill="#e6e2f6" stroke="#cdc6ee" stroke-width="0.8"/><ellipse cx="122.0" cy="676.5" rx="7.28" ry="7.28" fill="#f0eefa" stroke="#6c60d0" stroke-width="1.3"/><ellipse cx="119.82" cy="676.50" rx="5.38" ry="5.38" fill="#5749d2"/><ellipse cx="139.0" cy="674.6" rx="8.77" ry="8.77" fill="#f0eefa" stroke="#6c60d0" stroke-width="1.3"/><ellipse cx="136.37" cy="674.60" rx="6.49" ry="6.49" fill="#5749d2"/><circle cx="155.0" cy="672.4" r="4.82" fill="#dcd7f3" stroke="#9d94de" stroke-width="0.9"/><circle cx="155.3" cy="672.6" r="3.56" fill="#3a2cd6"/><circle cx="168.8" cy="676.5" r="6.42" fill="#dcd7f3" stroke="#9d94de" stroke-width="0.9"/><circle cx="169.10000000000002" cy="676.7" r="4.75" fill="#3a2cd6"/><circle cx="181.7" cy="681.3" r="6.21" fill="#dcd7f3" stroke="#9d94de" stroke-width="0.9"/><circle cx="182.0" cy="681.5" r="4.59" fill="#3a2cd6"/><circle cx="190.6" cy="674.0" r="4.07" fill="#dcd7f3" stroke="#9d94de" stroke-width="0.9"/><circle cx="190.9" cy="674.2" r="3.01" fill="#3a2cd6"/><circle cx="72.9" cy="682.3" r="4.92" fill="#dcd7f3" stroke="#9d94de" stroke-width="0.9"/><circle cx="73.2" cy="682.5" r="3.64" fill="#3a2cd6"/><ellipse cx="85.2" cy="685.1" rx="7.06" ry="7.06" fill="#f0eefa" stroke="#6c60d0" stroke-width="1.3"/><ellipse cx="86.70" cy="686.60" rx="5.23" ry="5.23" fill="#5749d2"/><circle cx="101.0" cy="682.3" r="4.92" fill="#e6e2f6" stroke="#cdc6ee" stroke-width="0.8"/><circle cx="95.3" cy="691.6" r="5.35" fill="#dcd7f3" stroke="#9d94de" stroke-width="0.9"/><circle cx="95.6" cy="691.8000000000001" r="3.96" fill="#3a2cd6"/><ellipse cx="109.7" cy="693.1" rx="8.56" ry="8.56" fill="#f0eefa" stroke="#6c60d0" stroke-width="1.3"/><ellipse cx="112.27" cy="693.10" rx="6.33" ry="6.33" fill="#5749d2"/><ellipse cx="129.2" cy="690.9" rx="9.84" ry="9.84" fill="#f0eefa" stroke="#6c60d0" stroke-width="1.3"/><ellipse cx="129.20" cy="687.95" rx="7.28" ry="7.28" fill="#5749d2"/><ellipse cx="147.0" cy="692.6" rx="7.81" ry="7.81" fill="#f0eefa" stroke="#6c60d0" stroke-width="1.3"/><ellipse cx="147.00" cy="690.26" rx="5.78" ry="5.78" fill="#5749d2"/><circle cx="159.1" cy="684.5" r="5.14" fill="#dcd7f3" stroke="#9d94de" stroke-width="0.9"/><circle cx="159.4" cy="684.7" r="3.80" fill="#3a2cd6"/><circle cx="170.4" cy="691.0" r="4.71" fill="#dcd7f3" stroke="#9d94de" stroke-width="0.9"/><circle cx="170.70000000000002" cy="691.2" r="3.48" fill="#3a2cd6"/><circle cx="187.4" cy="691.8" r="3.42" fill="#dcd7f3" stroke="#9d94de" stroke-width="0.9"/><circle cx="187.70000000000002" cy="692.0" r="2.53" fill="#3a2cd6"/><circle cx="194.6" cy="686.2" r="1.93" fill="#24188f"/><circle cx="200.3" cy="683.7" r="2.35" fill="#24188f"/><circle cx="199.5" cy="690.2" r="2.35" fill="#24188f"/><circle cx="203.5" cy="685.5" r="3.75" fill="#e6e2f6" stroke="#cdc6ee" stroke-width="0.8"/><ellipse cx="79.4" cy="699.6" rx="7.70" ry="7.70" fill="#f0eefa" stroke="#6c60d0" stroke-width="1.3"/><ellipse cx="81.59" cy="700.33" rx="5.70" ry="5.70" fill="#5749d2"/><ellipse cx="119.2" cy="716.6" rx="8.99" ry="10.52" fill="#f0eefa" stroke="#6c60d0" stroke-width="1.3"/><ellipse cx="119.20" cy="719.75" rx="6.65" ry="7.78" fill="#5749d2"/><ellipse cx="137.3" cy="718.5" rx="7.81" ry="10.15" fill="#f0eefa" stroke="#6c60d0" stroke-width="1.3"/><ellipse cx="137.30" cy="715.45" rx="5.78" ry="7.51" fill="#5749d2"/><circle cx="152.6" cy="713.6" r="5.99" fill="#dcd7f3" stroke="#9d94de" stroke-width="0.9"/><circle cx="152.9" cy="713.8000000000001" r="4.43" fill="#3a2cd6"/><circle cx="151.8" cy="727.4" r="5.99" fill="#dcd7f3" stroke="#9d94de" stroke-width="0.9"/><circle cx="152.10000000000002" cy="727.6" r="4.43" fill="#3a2cd6"/></g></g><g clip-path="url(#clipP)"><g filter="url(#soft)"><circle cx="88.7" cy="780.6" r="7.92" fill="#6457d4" stroke="#5a4dcc" stroke-width="1.1"/><circle cx="88.2" cy="780.2" r="4.91" fill="#8478dc"/><circle cx="88.4" cy="780.8000000000001" r="2.38" fill="#7466d8"/><circle cx="104.2" cy="779.0" r="3.64" fill="#dcd7f3" stroke="#9d94de" stroke-width="0.9"/><circle cx="104.5" cy="779.2" r="2.69" fill="#3a2cd6"/><circle cx="82.2" cy="788.8" r="3.64" fill="#dcd7f3" stroke="#9d94de" stroke-width="0.9"/><circle cx="82.5" cy="789.0" r="2.69" fill="#3a2cd6"/><circle cx="101.0" cy="788.0" r="4.07" fill="#dcd7f3" stroke="#9d94de" stroke-width="0.9"/><circle cx="101.3" cy="788.2" r="3.01" fill="#3a2cd6"/><circle cx="127.1" cy="791.2" r="8.77" fill="#6457d4" stroke="#5a4dcc" stroke-width="1.1"/><circle cx="126.6" cy="790.8000000000001" r="5.44" fill="#8478dc"/><circle cx="126.8" cy="791.4000000000001" r="2.63" fill="#7466d8"/><circle cx="92.8" cy="796.2" r="6.96" fill="#6457d4" stroke="#5a4dcc" stroke-width="1.1"/><circle cx="92.3" cy="795.8000000000001" r="4.31" fill="#8478dc"/><circle cx="92.5" cy="796.4000000000001" r="2.09" fill="#7466d8"/><circle cx="80.5" cy="798.6" r="4.92" fill="#dcd7f3" stroke="#9d94de" stroke-width="0.9"/><circle cx="80.8" cy="798.8000000000001" r="3.64" fill="#3a2cd6"/><circle cx="105.0" cy="796.2" r="3.85" fill="#dcd7f3" stroke="#9d94de" stroke-width="0.9"/><circle cx="105.3" cy="796.4000000000001" r="2.85" fill="#3a2cd6"/><circle cx="117.3" cy="799.4" r="4.28" fill="#dcd7f3" stroke="#9d94de" stroke-width="0.9"/><circle cx="117.6" cy="799.6" r="3.17" fill="#3a2cd6"/><circle cx="141.0" cy="797.0" r="3.85" fill="#e6e2f6" stroke="#cdc6ee" stroke-width="0.8"/><circle cx="142.5" cy="797.0" r="1.93" fill="#24188f"/><ellipse cx="78.1" cy="809.2" rx="7.92" ry="7.92" fill="#f0eefa" stroke="#6c60d0" stroke-width="1.3"/><ellipse cx="80.48" cy="809.20" rx="5.86" ry="5.86" fill="#5749d2"/><circle cx="92.0" cy="806.0" r="2.57" fill="#24188f"/><circle cx="99.3" cy="804.3" r="2.57" fill="#24188f"/><circle cx="107.5" cy="805.1" r="3.64" fill="#dcd7f3" stroke="#9d94de" stroke-width="0.9"/><circle cx="107.8" cy="805.3000000000001" r="2.69" fill="#3a2cd6"/><circle cx="113.2" cy="810.0" r="4.28" fill="#dcd7f3" stroke="#9d94de" stroke-width="0.9"/><circle cx="113.5" cy="810.2" r="3.17" fill="#3a2cd6"/><circle cx="124.7" cy="808.4" r="4.28" fill="#dcd7f3" stroke="#9d94de" stroke-width="0.9"/><circle cx="125.0" cy="808.6" r="3.17" fill="#3a2cd6"/><circle cx="136.1" cy="805.1" r="3.64" fill="#dcd7f3" stroke="#9d94de" stroke-width="0.9"/><circle cx="136.4" cy="805.3000000000001" r="2.69" fill="#3a2cd6"/><circle cx="93.6" cy="813.3" r="3.64" fill="#dcd7f3" stroke="#9d94de" stroke-width="0.9"/><circle cx="93.89999999999999" cy="813.5" r="2.69" fill="#3a2cd6"/><circle cx="102.6" cy="813.3" r="3.64" fill="#dcd7f3" stroke="#9d94de" stroke-width="0.9"/><circle cx="102.89999999999999" cy="813.5" r="2.69" fill="#3a2cd6"/><circle cx="109.1" cy="818.2" r="3.64" fill="#dcd7f3" stroke="#9d94de" stroke-width="0.9"/><circle cx="109.39999999999999" cy="818.4000000000001" r="2.69" fill="#3a2cd6"/><ellipse cx="118.1" cy="819.9" rx="6.21" ry="6.21" fill="#f0eefa" stroke="#6c60d0" stroke-width="1.3"/><ellipse cx="118.10" cy="818.04" rx="4.59" ry="4.59" fill="#5749d2"/><circle cx="129.6" cy="816.6" r="3.64" fill="#dcd7f3" stroke="#9d94de" stroke-width="0.9"/><circle cx="129.9" cy="816.8000000000001" r="2.69" fill="#3a2cd6"/><circle cx="88.7" cy="822.3" r="6.21" fill="#dcd7f3" stroke="#9d94de" stroke-width="0.9"/><circle cx="89.0" cy="822.5" r="4.59" fill="#3a2cd6"/><ellipse cx="101.0" cy="824.0" rx="6.21" ry="6.21" fill="#f0eefa" stroke="#6c60d0" stroke-width="1.3"/><ellipse cx="101.00" cy="825.86" rx="4.59" ry="4.59" fill="#5749d2"/><circle cx="127.1" cy="823.1" r="1.71" fill="#24188f"/><circle cx="110.8" cy="831.3" r="6.96" fill="#6457d4" stroke="#5a4dcc" stroke-width="1.1"/><circle cx="110.3" cy="830.9" r="4.31" fill="#8478dc"/><circle cx="110.5" cy="831.5" r="2.09" fill="#7466d8"/><circle cx="125.5" cy="831.3" r="6.63" fill="#dcd7f3" stroke="#9d94de" stroke-width="0.9"/><circle cx="125.8" cy="831.5" r="4.91" fill="#3a2cd6"/><circle cx="140.6" cy="832.4" r="8.77" fill="#6457d4" stroke="#5a4dcc" stroke-width="1.1"/><circle cx="140.1" cy="832.0" r="5.44" fill="#8478dc"/><circle cx="140.29999999999998" cy="832.6" r="2.63" fill="#7466d8"/><circle cx="93.6" cy="833.7" r="4.92" fill="#dcd7f3" stroke="#9d94de" stroke-width="0.9"/><circle cx="93.89999999999999" cy="833.9000000000001" r="3.64" fill="#3a2cd6"/><circle cx="101.8" cy="836.2" r="3.42" fill="#dcd7f3" stroke="#9d94de" stroke-width="0.9"/><circle cx="102.1" cy="836.4000000000001" r="2.53" fill="#3a2cd6"/><circle cx="108.3" cy="841.9" r="3.21" fill="#dcd7f3" stroke="#9d94de" stroke-width="0.9"/><circle cx="108.6" cy="842.1" r="2.38" fill="#3a2cd6"/><circle cx="116.5" cy="841.9" r="3.21" fill="#e6e2f6" stroke="#cdc6ee" stroke-width="0.8"/><circle cx="178.4" cy="781.2" r="7.92" fill="#6457d4" stroke="#5a4dcc" stroke-width="1.1"/><circle cx="177.9" cy="780.8000000000001" r="4.91" fill="#8478dc"/><circle cx="178.1" cy="781.4000000000001" r="2.38" fill="#7466d8"/><circle cx="191.9" cy="773.3" r="7.17" fill="#6457d4" stroke="#5a4dcc" stroke-width="1.1"/><circle cx="191.4" cy="772.9" r="4.44" fill="#8478dc"/><circle cx="191.6" cy="773.5" r="2.15" fill="#7466d8"/><circle cx="204.7" cy="777.6" r="4.07" fill="#dcd7f3" stroke="#9d94de" stroke-width="0.9"/><circle cx="205.0" cy="777.8000000000001" r="3.01" fill="#3a2cd6"/><circle cx="199.1" cy="785.4" r="4.07" fill="#dcd7f3" stroke="#9d94de" stroke-width="0.9"/><circle cx="199.4" cy="785.6" r="3.01" fill="#3a2cd6"/><circle cx="208.3" cy="786.2" r="3.85" fill="#dcd7f3" stroke="#9d94de" stroke-width="0.9"/><circle cx="208.60000000000002" cy="786.4000000000001" r="2.85" fill="#3a2cd6"/><circle cx="192.0" cy="791.1" r="3.42" fill="#dcd7f3" stroke="#9d94de" stroke-width="0.9"/><circle cx="192.3" cy="791.3000000000001" r="2.53" fill="#3a2cd6"/><circle cx="184.1" cy="796.1" r="3.42" fill="#dcd7f3" stroke="#9d94de" stroke-width="0.9"/><circle cx="184.4" cy="796.3000000000001" r="2.53" fill="#3a2cd6"/><circle cx="174.2" cy="802.5" r="3.64" fill="#dcd7f3" stroke="#9d94de" stroke-width="0.9"/><circle cx="174.5" cy="802.7" r="2.69" fill="#3a2cd6"/><circle cx="165.6" cy="808.2" r="3.64" fill="#dcd7f3" stroke="#9d94de" stroke-width="0.9"/><circle cx="165.9" cy="808.4000000000001" r="2.69" fill="#3a2cd6"/><circle cx="184.8" cy="757.7" r="3.00" fill="#e6e2f6" stroke="#cdc6ee" stroke-width="0.8"/><circle cx="205.5" cy="760.5" r="2.57" fill="#e6e2f6" stroke="#cdc6ee" stroke-width="0.8"/><circle cx="158.2" cy="841.7" r="7.92" fill="#6457d4" stroke="#5a4dcc" stroke-width="1.1"/><circle cx="157.7" cy="841.3000000000001" r="4.91" fill="#8478dc"/><circle cx="157.89999999999998" cy="841.9000000000001" r="2.38" fill="#7466d8"/><circle cx="212.0" cy="843.0" r="2.68" fill="#dcd7f3" stroke="#9d94de" stroke-width="0.9"/><circle cx="212.3" cy="843.2" r="1.98" fill="#3a2cd6"/></g></g>
<rect x="66.1" y="618.2" width="146.9" height="120" fill="none" stroke="#111" stroke-width="1.7"/>
<rect x="66.1" y="752.4" width="146.9" height="120.2" fill="none" stroke="#111" stroke-width="1.7"/>
<line x1="290.70" y1="797.50" x2="290.70" y2="816.90" stroke="#000" stroke-width="1.8"/>
<line x1="287.20" y1="797.50" x2="294.20" y2="797.50" stroke="#000" stroke-width="1.8"/>
<line x1="308.05" y1="787.70" x2="308.05" y2="810.20" stroke="#000" stroke-width="1.8"/>
<line x1="304.55" y1="787.70" x2="311.55" y2="787.70" stroke="#000" stroke-width="1.8"/>
<line x1="351.65" y1="653.00" x2="351.65" y2="683.30" stroke="#000" stroke-width="1.8"/>
<line x1="348.15" y1="653.00" x2="355.15" y2="653.00" stroke="#000" stroke-width="1.8"/>
<line x1="369.40" y1="643.10" x2="369.40" y2="680.20" stroke="#000" stroke-width="1.8"/>
<line x1="365.90" y1="643.10" x2="372.90" y2="643.10" stroke="#000" stroke-width="1.8"/>
<line x1="412.45" y1="740.20" x2="412.45" y2="763.10" stroke="#000" stroke-width="1.8"/>
<line x1="408.95" y1="740.20" x2="415.95" y2="740.20" stroke="#000" stroke-width="1.8"/>
<line x1="430.20" y1="751.80" x2="430.20" y2="776.00" stroke="#000" stroke-width="1.8"/>
<line x1="426.70" y1="751.80" x2="433.70" y2="751.80" stroke="#000" stroke-width="1.8"/>
<line x1="473.30" y1="820.20" x2="473.30" y2="829.60" stroke="#000" stroke-width="1.8"/>
<line x1="469.80" y1="820.20" x2="476.80" y2="820.20" stroke="#000" stroke-width="1.8"/>
<line x1="490.80" y1="817.50" x2="490.80" y2="829.00" stroke="#000" stroke-width="1.8"/>
<line x1="487.30" y1="817.50" x2="494.30" y2="817.50" stroke="#000" stroke-width="1.8"/>
<rect x="283.10" y="817.80" width="15.20" height="37.60" fill="#fff" stroke="#000" stroke-width="1.8"/>
<rect x="299.20" y="810.20" width="17.70" height="45.20" fill="#000"/>
<rect x="343.90" y="684.20" width="15.50" height="171.20" fill="#fff" stroke="#000" stroke-width="1.8"/>
<rect x="360.30" y="680.20" width="18.20" height="175.20" fill="#000"/>
<rect x="404.60" y="764.00" width="15.70" height="91.40" fill="#fff" stroke="#000" stroke-width="1.8"/>
<rect x="421.20" y="776.00" width="18.00" height="79.40" fill="#000"/>
<rect x="465.70" y="830.50" width="15.20" height="24.90" fill="#fff" stroke="#000" stroke-width="1.8"/>
<rect x="481.80" y="829.00" width="18.00" height="26.40" fill="#000"/>
<line x1="269.50" y1="619.80" x2="269.50" y2="862.50" stroke="#000" stroke-width="2"/>
<line x1="261.00" y1="855.40" x2="512.80" y2="855.40" stroke="#000" stroke-width="2"/>
<line x1="330.20" y1="855.40" x2="330.20" y2="862.50" stroke="#000" stroke-width="1.8"/>
<line x1="390.80" y1="855.40" x2="390.80" y2="862.50" stroke="#000" stroke-width="1.8"/>
<line x1="451.40" y1="855.40" x2="451.40" y2="862.50" stroke="#000" stroke-width="1.8"/>
<line x1="512.00" y1="855.40" x2="512.00" y2="862.50" stroke="#000" stroke-width="1.8"/>
<line x1="262.70" y1="855.40" x2="269.50" y2="855.40" stroke="#000" stroke-width="1.8"/>
<text transform="translate(258.20,860.00) scale(0.950,1)" font-size="12.8" font-weight="normal" text-anchor="end">0</text>
<line x1="262.70" y1="821.80" x2="269.50" y2="821.80" stroke="#000" stroke-width="1.8"/>
<text transform="translate(258.20,826.40) scale(0.950,1)" font-size="12.8" font-weight="normal" text-anchor="end">10</text>
<line x1="262.70" y1="788.20" x2="269.50" y2="788.20" stroke="#000" stroke-width="1.8"/>
<text transform="translate(258.20,792.80) scale(0.950,1)" font-size="12.8" font-weight="normal" text-anchor="end">20</text>
<line x1="262.70" y1="754.60" x2="269.50" y2="754.60" stroke="#000" stroke-width="1.8"/>
<text transform="translate(258.20,759.20) scale(0.950,1)" font-size="12.8" font-weight="normal" text-anchor="end">30</text>
<line x1="262.70" y1="721.00" x2="269.50" y2="721.00" stroke="#000" stroke-width="1.8"/>
<text transform="translate(258.20,725.60) scale(0.950,1)" font-size="12.8" font-weight="normal" text-anchor="end">40</text>
<line x1="262.70" y1="687.40" x2="269.50" y2="687.40" stroke="#000" stroke-width="1.8"/>
<text transform="translate(258.20,692.00) scale(0.950,1)" font-size="12.8" font-weight="normal" text-anchor="end">50</text>
<line x1="262.70" y1="653.80" x2="269.50" y2="653.80" stroke="#000" stroke-width="1.8"/>
<text transform="translate(258.20,658.40) scale(0.950,1)" font-size="12.8" font-weight="normal" text-anchor="end">60</text>
<line x1="262.70" y1="620.20" x2="269.50" y2="620.20" stroke="#000" stroke-width="1.8"/>
<text transform="translate(258.20,624.80) scale(0.950,1)" font-size="12.8" font-weight="normal" text-anchor="end">70</text>
<text transform="translate(232.00,802.50) rotate(-90)" font-size="14" font-weight="bold" text-anchor="start">Number of cells (%)</text>
<text transform="translate(305.50,879.70)" font-size="13.6" font-weight="normal" text-anchor="middle">Baso</text>
<text transform="translate(368.00,879.70)" font-size="13.6" font-weight="normal" text-anchor="middle">Poly</text>
<text transform="translate(436.10,879.70)" font-size="13.6" font-weight="normal" text-anchor="middle">Ortho</text>
<text transform="translate(501.20,879.70)" font-size="13.6" font-weight="normal" text-anchor="middle">E</text>
<rect x="477" y="697.3" width="9.6" height="9.6" fill="#fff" stroke="#000" stroke-width="1.6"/>
<rect x="476.2" y="714" width="11.1" height="10.4" fill="#000"/>
<text transform="translate(490.40,706.00) scale(1.030,1)" font-size="11.4" font-weight="normal" text-anchor="start">N</text>
<text transform="translate(490.40,723.60) scale(1.050,1)" font-size="11.6" font-weight="normal" text-anchor="start">PV</text>
</svg>
</body></html>
